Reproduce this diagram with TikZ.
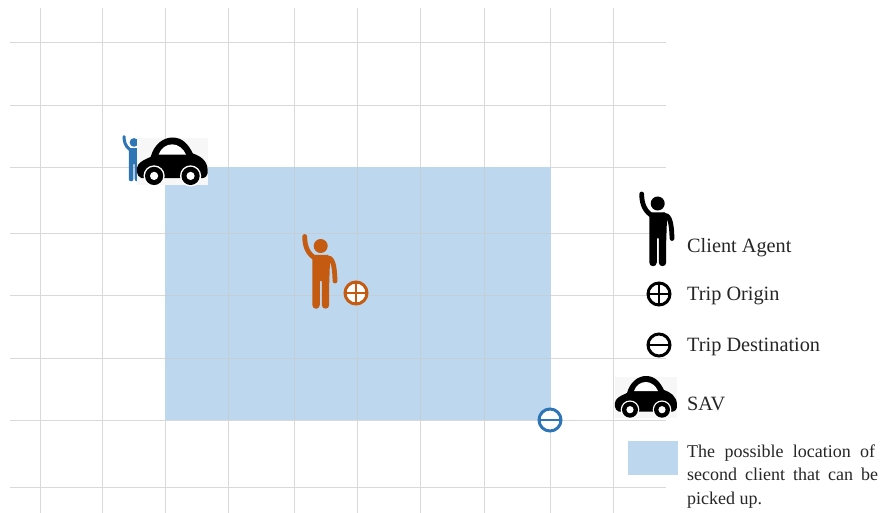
\documentclass[tikz,border=0pt]{standalone}
\usepackage{fontspec}
\setmainfont{Liberation Serif}
\definecolor{gridc}{HTML}{D9D9D9}
\definecolor{gridz}{HTML}{C3CFD8}
\definecolor{zone}{HTML}{BDD7EE}
\definecolor{cblue}{HTML}{2E75B6}
\definecolor{corange}{HTML}{C55A11}
\tikzset{
  gridline/.style={draw=gridc,line width=0.9pt},
  armw/.style={line width=4.8pt},
  label/.style={inner sep=0pt,anchor=base west,font=\fontsize{20.3}{23}\selectfont,text=black!85},
  small/.style={inner sep=0pt,anchor=base west,font=\fontsize{18}{23}\selectfont,text=black!85},
  pics/person/.style={code={
    \fill[#1] (17.7,12) circle (7);
    \draw[#1,armw,line cap=round,line join=round] (1.7,2.5) .. controls (1.7,9) and (3,18) .. (11,23.5);
    \draw[#1,armw,line cap=round] (23,23.5) .. controls (29,23.5) and (31.5,28) .. (32,47);
    \fill[#1] (9.3,21) -- (25,21) -- (27,27) -- (26.2,50) -- (26.2,71) arc[start angle=0,end angle=180,radius=3.7] -- (18.8,47) -- (16.8,47) -- (16.8,71) arc[start angle=0,end angle=180,radius=3.75] -- cycle;
  }},
  pics/carshape/.style={code={
    \fill[gray!6] (0,0.5) rectangle (62,41.5);
    \fill[black] (4,35.7) .. controls (-1,34) and (-1,27) .. (1,24)
      .. controls (4,20) and (8,19) .. (12,17)
      .. controls (15,6) and (23,0) .. (31,0)
      .. controls (40,0) and (45,6) .. (49,14)
      .. controls (55,16) and (62,20) .. (62,29)
      .. controls (62.5,33) and (60,35.7) .. (57,35.7) -- cycle;
    \fill[white] (19,15) .. controls (21,9) and (26,6) .. (31,6)
      .. controls (36,6) and (41,10) .. (43,15) -- cycle;
    \foreach \wx in {15,47}{
      \fill[white] (\wx,33.7) circle (9.3);
      \fill[black] (\wx,33.7) circle (8);
      \fill[white] (\wx,33.7) circle (3.6);
    }
  }},
  pics/tripsign/.style 2 args={code={
    \draw[#1,fill=white,line width=3pt] (0,0) circle (11);
    \draw[#1,line width=2.6pt] (-11,0) -- (11,0);
    \if#2p\draw[#1,line width=2.6pt] (0,-11) -- (0,11);\fi
  }}
}
\begin{document}
\begin{tikzpicture}[x=1pt,y=-1pt]
\useasboundingbox (0,0) rectangle (881,513);
\fill[white] (0,0) rectangle (881,513);
\foreach \gx in {40,102,165,228,294,357,420,484,550,613}
  \draw[gridline] (\gx,8) -- (\gx,513);
\foreach \gy in {42,105,167,233,295,358,420,487}
  \draw[gridline] (10,\gy) -- (666,\gy);
\fill[zone] (165,167) rectangle (551,420);
\begin{scope}
  \clip (165,167) rectangle (551,420);
  \foreach \gx in {228,294,357,420,484}
    \draw[draw=gridz,line width=0.9pt] (\gx,167) -- (\gx,420);
  \foreach \gy in {233,295,358}
    \draw[draw=gridz,line width=0.9pt] (165,\gy) -- (551,\gy);
\end{scope}
% map symbols
\pic[scale=0.62,armw/.style={line width=3pt}] at (123,135) {person={cblue}};
\pic[scale=1.14] at (137,137.5) {carshape};
\pic at (303,234) {person={corange}};
\pic at (356,293) {tripsign={corange}{p}};
\pic at (550,420) {tripsign={cblue}{m}};
% legend
\pic at (640,191.5) {person={black}};
\pic at (659,294) {tripsign={black}{p}};
\pic at (659,345) {tripsign={black}{m}};
\pic at (615,376) {carshape};
\fill[zone] (628,441) rectangle (678,475);
\node[label] (lclient) at (687,252) {Client Agent};
\node[label] (lorigin) at (687,300) {Trip Origin};
\node[label] (ldest) at (687,351) {Trip Destination};
\node[label] (lsav) at (687,410) {SAV};
\node[small] (lz1) at (687,457) {\makebox[188pt][s]{The possible location of}};
\node[small] (lz2) at (687,480) {\makebox[191pt][s]{second client that can be}};
\node[small] (lz3) at (687,504) {picked up.};
\end{tikzpicture}
\end{document}
